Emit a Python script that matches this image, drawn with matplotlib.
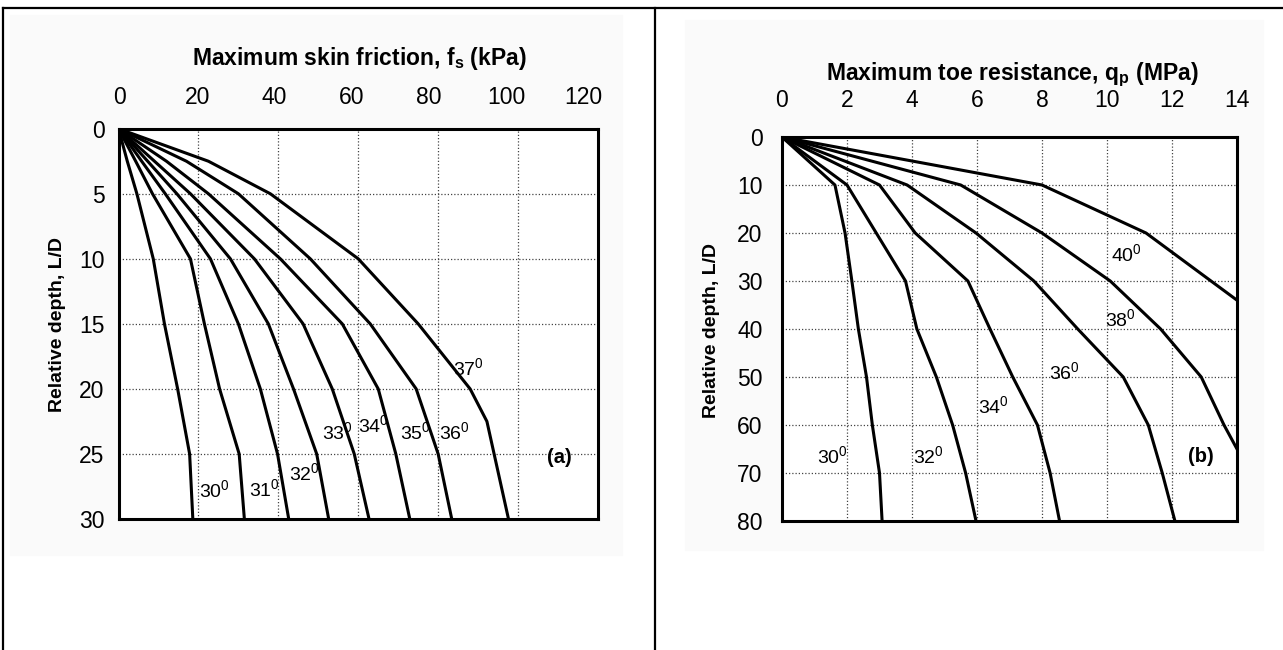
import matplotlib
matplotlib.use("Agg")
import matplotlib.pyplot as plt
from matplotlib.lines import Line2D

plt.rcParams['font.family'] = ['Liberation Sans', 'DejaVu Sans']
plt.rcParams['mathtext.fontset'] = 'custom'
plt.rcParams['mathtext.rm'] = 'Liberation Sans'
plt.rcParams['mathtext.default'] = 'regular'

W, H = 1283, 650

# (a) skin friction fs (kPa) vs relative depth L/D
depth_a = [0, 2.5, 5, 10, 15, 20, 25, 30]
depth_a37 = [0, 2.5, 5, 10, 15, 20, 22.5, 30]
fs_30 = [0, 2.2, 4.6, 8.7, 11.5, 14.8, 17.8, 18.6]
fs_31 = [0, 4.3, 8.5, 18.0, 21.5, 25.3, 30.2, 31.5]
fs_32 = [0, 5.8, 11.7, 23.0, 30.0, 35.5, 39.8, 42.6]
fs_33 = [0, 7.3, 14.6, 28.0, 37.5, 43.8, 49.6, 52.6]
fs_34 = [0, 9.0, 18.0, 34.0, 46.2, 53.5, 59.0, 62.7]
fs_35 = [0, 12.0, 22.5, 40.5, 56.0, 65.0, 69.4, 72.9]
fs_36 = [0, 17.0, 30.0, 48.0, 63.0, 74.5, 80.0, 83.4]
fs_37 = [0, 22.5, 38.0, 60.0, 75.0, 88.0, 92.2, 97.6]
angles_a = ['30', '31', '32', '33', '34', '35', '36', '37']
label_x_a = [24.1, 36.4, 46.6, 54.9, 63.9, 74.4, 84.1, 87.6]
label_y_a = [27.8, 27.7, 26.5, 23.3, 22.8, 23.3, 23.3, 18.4]
ticks_a = [0, 20, 40, 60, 80, 100, 120]

# (b) toe resistance qp (MPa) vs relative depth L/D
depth_b = [0, 10, 20, 30, 40, 50, 60, 70, 80]
depth_b38 = [0, 10, 20, 30, 40, 50, 60, 65]
depth_b40 = [0, 10, 20, 34]
qp_30 = [0, 1.63, 1.94, 2.15, 2.35, 2.6, 2.78, 3.0, 3.08]
qp_32 = [0, 2.0, 2.9, 3.8, 4.15, 4.75, 5.25, 5.65, 5.97]
qp_34 = [0, 3.0, 4.1, 5.72, 6.4, 7.1, 7.86, 8.25, 8.54]
qp_36 = [0, 3.85, 5.97, 7.75, 9.1, 10.5, 11.27, 11.7, 12.09]
qp_38 = [0, 5.5, 8.0, 10.1, 11.65, 12.9, 13.6, 14.0]
qp_40 = [0, 8.0, 11.2, 14.0]
angles_b = ['30', '32', '34', '36', '38', '40']
label_x_b = [1.55, 4.5, 6.5, 8.7, 10.4, 10.6]
label_y_b = [66.5, 66.5, 56.0, 49.0, 38.0, 24.5]


def box(l, t, r, b):
    return [l / W, 1 - b / H, (r - l) / W, (b - t) / H]


def style(ax):
    ax.xaxis.tick_top()
    ax.tick_params(length=0, labelsize=16.5)
    ax.grid(True, color='#444444', linestyle=(0, (1, 1.6)), linewidth=0.9)
    for s in ax.spines.values():
        s.set_linewidth(2.2)
        s.set_zorder(5)


fig = plt.figure(figsize=(W / 100, H / 100), dpi=100)

# faint scan background and table lines
fig.patches.append(plt.Rectangle((10 / W, 1 - 555 / H), 612 / W, 540 / H,
                                 transform=fig.transFigure, color='#fafafa', zorder=-5))
fig.patches.append(plt.Rectangle((685 / W, 1 - 550 / H), 578 / W, 530 / H,
                                 transform=fig.transFigure, color='#fafafa', zorder=-5))
fig.add_artist(Line2D([3 / W, 1], [1 - 8 / H, 1 - 8 / H], color='black', lw=1.6))
fig.add_artist(Line2D([3 / W, 3 / W], [0, 1 - 8 / H], color='black', lw=1.6))
fig.add_artist(Line2D([655 / W, 655 / W], [0, 1 - 8 / H], color='black', lw=1.6))

# panel (a)
ax1 = fig.add_axes(box(118.5, 128.7, 598, 519))
style(ax1)
for x in [fs_30, fs_31, fs_32, fs_33, fs_34, fs_35, fs_36]:
    ax1.plot(x, depth_a, color='black', lw=2.2, solid_joinstyle='round')
ax1.plot(fs_37, depth_a37, color='black', lw=2.2, solid_joinstyle='round')
ax1.set_xlim(0, 120)
ax1.set_ylim(30, 0)
ax1.set_xticks(ticks_a)
ax1.set_yticks(range(0, 31, 5))
ax1.tick_params(axis='x', labeltop=False)
ax1.tick_params(axis='y', pad=10)
# the printed scale of (a) is slightly narrower than its grid
sec = ax1.secondary_xaxis('top', functions=(lambda x: (4 * x - 1.5) / 3.867,
                                            lambda s: (1.5 + 3.867 * s) / 4))
sec.set_xticks(ticks_a)
sec.tick_params(length=0, labelsize=16.5, pad=14)
sec.spines['top'].set_visible(False)
for a, lx, ly in zip(angles_a, label_x_a, label_y_a):
    ax1.text(lx, ly, a + '$^{0}$', fontsize=14, ha='center', va='center')
ax1.text(110.4, 25.3, '(a)', fontsize=14.5, fontweight='bold', ha='center', va='center')
fig.text(359 / W, 1 - 59 / H, 'Maximum skin friction, f$_{s}$ (kPa)',
         fontsize=16.5, fontweight='bold', ha='center', va='center')
fig.text(58 / W, 1 - 325 / H, 'Relative depth, L/D', fontsize=14,
         fontweight='bold', rotation=90, ha='center', va='center')

# panel (b)
ax2 = fig.add_axes(box(782, 137, 1237, 521))
style(ax2)
for q in [qp_30, qp_32, qp_34, qp_36]:
    ax2.plot(q, depth_b, color='black', lw=2.2, solid_joinstyle='round')
ax2.plot(qp_38, depth_b38, color='black', lw=2.2, solid_joinstyle='round')
ax2.plot(qp_40, depth_b40, color='black', lw=2.2, solid_joinstyle='round')
ax2.set_xlim(0, 14)
ax2.set_ylim(80, 0)
ax2.set_xticks(range(0, 15, 2))
ax2.set_yticks(range(0, 81, 10))
ax2.tick_params(axis='x', pad=18)
ax2.tick_params(axis='y', pad=14)
for a, lx, ly in zip(angles_b, label_x_b, label_y_b):
    ax2.text(lx, ly, a + '$^{0}$', fontsize=14, ha='center', va='center')
ax2.text(12.9, 66.5, '(b)', fontsize=14.5, fontweight='bold', ha='center', va='center')
fig.text(1012 / W, 1 - 75 / H, 'Maximum toe resistance, q$_{p}$ (MPa)',
         fontsize=16.5, fontweight='bold', ha='center', va='center')
fig.text(712 / W, 1 - 330 / H, 'Relative depth, L/D', fontsize=14,
         fontweight='bold', rotation=90, ha='center', va='center')

fig.savefig('out.png', dpi=100)
